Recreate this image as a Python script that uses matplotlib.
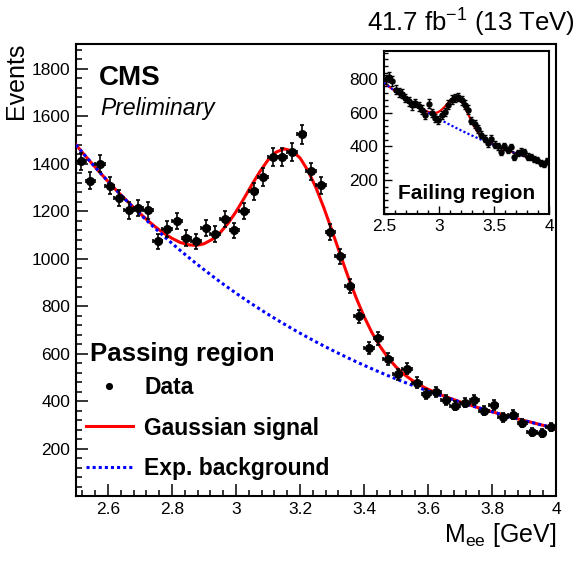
import numpy as np
import matplotlib
matplotlib.use('Agg')
import matplotlib.pyplot as plt
from matplotlib.ticker import MultipleLocator

plt.rcParams['font.family'] = ['Liberation Sans', 'DejaVu Sans']
plt.rcParams['mathtext.fontset'] = 'custom'
plt.rcParams['mathtext.rm'] = 'Liberation Sans'
plt.rcParams['mathtext.it'] = 'Liberation Sans:italic'
plt.rcParams['mathtext.bf'] = 'Liberation Sans:bold'

# binning: 50 bins of 30 MeV between 2.5 and 4 GeV
edges = np.linspace(2.5, 4.0, 51)
centers = 0.5 * (edges[1:] + edges[:-1])

# passing region, events per bin
pass_counts = [1410, 1329, 1401, 1308, 1256, 1204, 1214, 1204, 1073, 1127,
               1160, 1087, 1073, 1129, 1105, 1169, 1119, 1200, 1284, 1345,
               1427, 1427, 1448, 1524, 1368, 1310, 1111, 1010, 884, 757,
               625, 664, 578, 513, 537, 478, 429, 437, 405, 380,
               394, 405, 360, 383, 332, 342, 307, 271, 267, 292]

# failing region, events per bin
fail_counts = [800, 815, 790, 740, 725, 715, 690, 670, 645, 660,
               640, 620, 590, 655, 600, 570, 560, 590, 605, 650,
               680, 690, 695, 675, 650, 620, 555, 535, 505, 470,
               445, 420, 445, 410, 400, 370, 400, 380, 395, 340,
               360, 370, 365, 340, 335, 325, 320, 300, 295, 315]

# fitted curves, every 25 MeV
fit_x = np.linspace(2.5, 4.0, 61)
pass_total = [1480, 1440, 1401, 1363, 1326, 1290, 1256, 1223, 1191, 1160,
              1132, 1107, 1086, 1069, 1059, 1056, 1063, 1081, 1109, 1149,
              1198, 1254, 1313, 1368, 1416, 1449, 1463, 1455, 1425, 1371,
              1299, 1213, 1118, 1021, 925, 837, 757, 688, 631, 583,
              544, 513, 488, 467, 450, 435, 421, 409, 397, 386,
              375, 365, 355, 346, 336, 327, 318, 310, 301, 293,
              285]
pass_bkg = [1480.0, 1439.9, 1400.9, 1363.0, 1326.1, 1290.2, 1255.3, 1221.3, 1188.2, 1156.0,
            1124.7, 1094.3, 1064.7, 1035.8, 1007.8, 980.5, 954.0, 928.2, 903.0, 878.6,
            854.8, 831.6, 809.1, 787.2, 765.9, 745.2, 725.0, 705.4, 686.3, 667.7,
            649.6, 632.0, 614.9, 598.2, 582.0, 566.3, 550.9, 536.0, 521.5, 507.4,
            493.6, 480.3, 467.3, 454.6, 442.3, 430.3, 418.7, 407.4, 396.3, 385.6,
            375.2, 365.0, 355.1, 345.5, 336.2, 327.1, 318.2, 309.6, 301.2, 293.1,
            285.1]
fail_total = [780, 768, 755, 743, 731, 720, 708, 697, 686, 675,
              664, 653, 643, 633, 623, 615, 607, 602, 600, 601,
              608, 620, 636, 655, 673, 687, 693, 688, 672, 647,
              614, 579, 544, 513, 487, 466, 449, 436, 426, 417,
              410, 402, 396, 390, 383, 377, 371, 365, 359, 354,
              348, 342, 337, 331, 326, 321, 316, 311, 306, 301,
              296]
fail_bkg = [780.0, 767.5, 755.2, 743.1, 731.2, 719.5, 708.0, 696.6, 685.5, 674.5,
            663.7, 653.0, 642.6, 632.3, 622.2, 612.2, 602.4, 592.8, 583.3, 573.9,
            564.7, 555.7, 546.8, 538.0, 529.4, 520.9, 512.6, 504.4, 496.3, 488.3,
            480.5, 472.8, 465.2, 457.8, 450.4, 443.2, 436.1, 429.1, 422.3, 415.5,
            408.8, 402.3, 395.8, 389.5, 383.2, 377.1, 371.0, 365.1, 359.2, 353.5,
            347.8, 342.2, 336.7, 331.3, 326.0, 320.8, 315.7, 310.6, 305.6, 300.7,
            295.9]

W, H = 580, 563
fig = plt.figure(figsize=(W / 100, H / 100), dpi=100)

# ---- main pad (passing region)
ax = fig.add_axes([76 / W, 67 / H, 480 / W, 452 / H])
l_sig, = ax.plot(fit_x, pass_total, color='red', lw=2.2, zorder=3)
l_bkg, = ax.plot(fit_x, pass_bkg, color='blue', lw=2.2, ls=(0, (1, 1)), zorder=4)
data = ax.errorbar(centers, pass_counts, yerr=np.sqrt(pass_counts), xerr=0.015,
                   fmt='o', color='k', ms=5.5, elinewidth=1.2, capsize=1.6,
                   capthick=1.2, zorder=5)

ax.set_xlim(2.5, 4.0)
ax.set_ylim(0, 1905)
ax.xaxis.set_minor_locator(MultipleLocator(0.04))
ax.yaxis.set_minor_locator(MultipleLocator(40))
ax.set_yticks([200, 400, 600, 800, 1000, 1200, 1400, 1600, 1800])
ax.set_xticks([2.6, 2.8, 3.0, 3.2, 3.4, 3.6, 3.8, 4.0])
ax.set_xticklabels(['2.6', '2.8', '3', '3.2', '3.4', '3.6', '3.8', '4'])
ax.tick_params(which='both', direction='in', labelsize=12.5, width=1.1)
ax.tick_params(which='major', length=8.5, pad=4)
ax.tick_params(which='minor', length=4.3)
for s in ax.spines.values():
    s.set_linewidth(1.5)

fig.text(16 / W, 1 - 43 / H, 'Events', rotation=90, ha='center', va='top', fontsize=18)
fig.text(556 / W, 1 - 542 / H, r'M$_{\rm ee}$ [GeV]', ha='right', va='baseline', fontsize=18)
fig.text(575 / W, 1 - 32 / H, r'41.7 fb$^{-1}$ (13 TeV)', ha='right', va='baseline', fontsize=18.5)
fig.text(99 / W, 1 - 85 / H, 'CMS', fontsize=20, fontweight='bold', va='baseline')
fig.text(100 / W, 1 - 115 / H, 'Preliminary', fontsize=16.5, style='italic', va='baseline')

ax.text((90 - 76) / 480, (496 - 361) / 452, 'Passing region', transform=ax.transAxes,
        fontsize=18.5, fontweight='bold', va='baseline')
ax.legend([data[0], l_sig, l_bkg], ['Data', 'Gaussian signal', 'Exp. background'],
          loc='center left', bbox_to_anchor=((86 - 76) / 480, (496 - 428) / 452),
          frameon=False, prop={'weight': 'bold', 'size': 16.5},
          handlelength=2.04, handletextpad=0.5, labelspacing=0.78,
          borderpad=0, borderaxespad=0, numpoints=1, markerscale=0.75)

# ---- inset (failing region)
ins = fig.add_axes([384 / W, 1 - 213.5 / H, 165 / W, 162.5 / H])
ins.set_facecolor('white')
ins.plot(fit_x, fail_total, color='red', lw=1.6, zorder=3)
ins.plot(fit_x, fail_bkg, color='blue', lw=1.6, ls=(0, (1, 1)), zorder=4)
ins.errorbar(centers, fail_counts, yerr=np.sqrt(fail_counts), xerr=0.015,
             fmt='o', color='k', ms=3.5, elinewidth=1.0, capsize=1.2,
             capthick=1.0, zorder=5)
ins.set_xlim(2.5, 4.0)
ins.set_ylim(0, 970)
ins.set_xticks([2.5, 3.0, 3.5, 4.0])
ins.set_xticklabels(['2.5', '3', '3.5', '4'])
ins.xaxis.set_minor_locator(MultipleLocator(0.1))
ins.set_yticks([200, 400, 600, 800])
ins.yaxis.set_minor_locator(MultipleLocator(40))
ins.tick_params(which='both', direction='in', labelsize=12.5, width=1.0)
ins.tick_params(which='major', length=6, pad=4)
ins.tick_params(which='minor', length=3)
for s in ins.spines.values():
    s.set_linewidth(1.5)
ins.text((398 - 384) / 165, (213.5 - 199.3) / 162.5, 'Failing region', transform=ins.transAxes,
         fontsize=15, fontweight='bold', va='baseline')

fig.savefig('out.png', dpi=100)
